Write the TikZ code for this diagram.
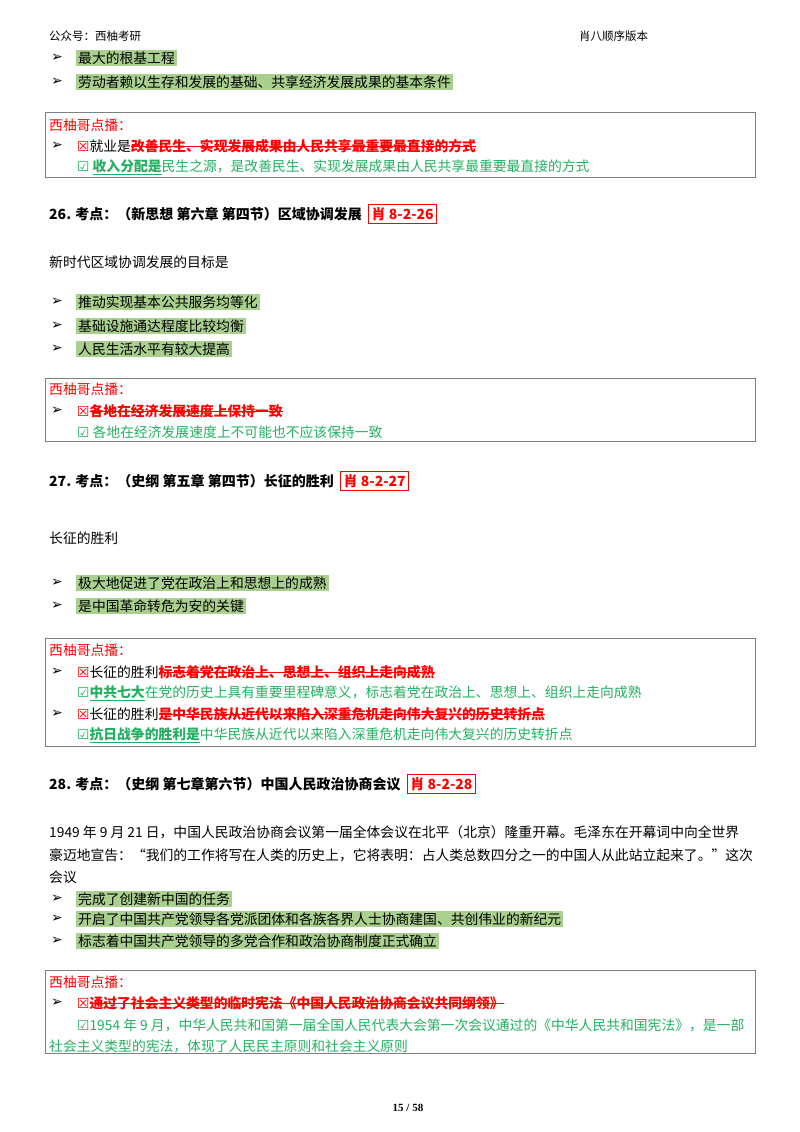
\documentclass[tikz,border=0pt]{standalone}
\usepackage{fontspec}
\setmainfont{Liberation Serif}
\newfontfamily\cjk{Noto Sans CJK SC}
\newfontfamily\sym{DejaVu Sans}
\definecolor{hl}{HTML}{A9D08E}
\definecolor{gr}{HTML}{22B060}
\definecolor{rd}{HTML}{FF0000}
\newcommand{\ck}{{\sym ☑}}
\newcommand{\xk}{{\sym ☒}}
\newsavebox{\mybx}
\newcommand{\strk}[1]{\sbox{\mybx}{#1}\rlap{\rule[0.3em]{\wd\mybx}{0.9pt}}\usebox{\mybx}}
\newcommand{\undl}[1]{\sbox{\mybx}{#1}\rlap{\rule[-0.25em]{\wd\mybx}{0.9pt}}\usebox{\mybx}}
\tikzset{
 tx/.style={anchor=west,inner sep=1pt,font=\cjk\fontsize{13.8}{16}\selectfont},
 hi/.style={tx,fill=hl,inner sep=2pt},
 bul/.style={anchor=center,inner sep=0pt,font=\sym\fontsize{14}{16}\selectfont},
 hd/.style={tx,font=\cjk\bfseries\fontsize{14}{16}\selectfont},
 tag/.style={draw=rd,line width=1.2pt,inner sep=3pt,anchor=west,text=rd,font=\cjk\bfseries\fontsize{14}{16}\selectfont},
 tipbox/.style={draw=gray,line width=0.8pt},
 small/.style={tx,font=\cjk\fontsize{11.5}{13}\selectfont}
}
\begin{document}
\begin{tikzpicture}[x=1pt,y=-1pt]
\useasboundingbox (0,0) rectangle (800,1132);
\node[small] (h1) at (48,36) {公众号：西柚考研};
\node[small] (h2) at (578,36) {肖八顺序版本};
% top bullets
\node[bul] (b1) at (57,58) {➢}; \node[hi] (t1) at (76,58) {最大的根基工程};
\node[bul] (b2) at (57,82) {➢}; \node[hi] (t2) at (76,82) {劳动者赖以生存和发展的基础、共享经济发展成果的基本条件};
% box1
\draw[tipbox] (45,112) rectangle (755,177);
\node[tx,text=rd] (p1) at (48,125) {西柚哥点播：};
\node[bul] (b3) at (57,146) {➢};
\node[tx] (p2) at (76,146) {\textcolor{rd}{\xk}就业是\textcolor{rd}{\bfseries\strk{改善民生、实现发展成果由人民共享最重要最直接的方式}}};
\node[tx,text=gr] (p3) at (76,167) {\ck\ \textbf{\undl{收入分配是}}民生之源，是改善民生、实现发展成果由人民共享最重要最直接的方式};
% 26
\node[hd] (s26) at (48,214) {26. 考点：（新思想 第六章 第四节）区域协调发展};
\node[tag] (g26) at ([xshift=5pt]s26.east) {肖 8-2-26};
\node[tx] (q26) at (48,262) {新时代区域协调发展的目标是};
\node[bul] at (57,302) {➢}; \node[hi] (a1) at (76,302) {推动实现基本公共服务均等化 };
\node[bul] at (57,326) {➢}; \node[hi] (a2) at (76,326) {基础设施通达程度比较均衡};
\node[bul] at (57,349) {➢}; \node[hi] (a3) at (76,349) {人民生活水平有较大提高};
\draw[tipbox] (45,378) rectangle (755,441);
\node[tx,text=rd] (p4) at (48,389) {西柚哥点播：};
\node[bul] at (57,411) {➢};
\node[tx,text=rd] (p5) at (76,411) {\xk\textbf{\strk{各地在经济发展速度上保持一致}}};
\node[tx,text=gr] (p6) at (76,432) {\ck\ 各地在经济发展速度上不可能也不应该保持一致};
% 27
\node[hd] (s27) at (48,481) {27. 考点：（史纲 第五章 第四节）长征的胜利};
\node[tag] (g27) at ([xshift=5pt]s27.east) {肖 8-2-27};
\node[tx] (q27) at (48,538) {长征的胜利};
\node[bul] at (57,583) {➢}; \node[hi] (c1) at (76,583) {极大地促进了党在政治上和思想上的成熟};
\node[bul] at (57,606) {➢}; \node[hi] (c2) at (76,606) {是中国革命转危为安的关键};
\draw[tipbox] (45,638) rectangle (755,746);
\node[tx,text=rd] (p7) at (48,650) {西柚哥点播：};
\node[bul] at (57,672) {➢};
\node[tx] (p8) at (76,672) {\textcolor{rd}{\xk}长征的胜利\textcolor{rd}{\bfseries\strk{标志着党在政治上、思想上、组织上走向成熟}}};
\node[tx,text=gr] (p9) at (76,693) {\ck\textbf{\undl{中共七大}}在党的历史上具有重要里程碑意义，标志着党在政治上、思想上、组织上走向成熟};
\node[bul] at (57,714) {➢};
\node[tx] (p10) at (76,714) {\textcolor{rd}{\xk}长征的胜利\textcolor{rd}{\bfseries\strk{是中华民族从近代以来陷入深重危机走向伟大复兴的历史转折点}}};
\node[tx,text=gr] (p11) at (76,735) {\ck\textbf{\undl{抗日战争的胜利是}}中华民族从近代以来陷入深重危机走向伟大复兴的历史转折点};
% 28
\node[hd] (s28) at (48,784) {28. 考点：（史纲 第七章第六节）中国人民政治协商会议};
\node[tag] (g28) at ([xshift=5pt]s28.east) {肖 8-2-28};
\node[tx] (r1) at (48,832) {1949 年 9 月 21 日，中国人民政治协商会议第一届全体会议在北平（北京）隆重开幕。毛泽东在开幕词中向全世界};
\node[tx] (r2) at (48,855) {豪迈地宣告：“我们的工作将写在人类的历史上，它将表明：占人类总数四分之一的中国人从此站立起来了。”这次};
\node[tx] (r3) at (48,877) {会议};
\node[bul] at (57,899) {➢}; \node[hi] (d1) at (76,899) {完成了创建新中国的任务};
\node[bul] at (57,919) {➢}; \node[hi] (d2) at (76,919) {开启了中国共产党领导各党派团体和各族各界人士协商建国、共创伟业的新纪元};
\node[bul] at (57,941) {➢}; \node[hi] (d3) at (76,941) {标志着中国共产党领导的多党合作和政治协商制度正式确立};
\draw[tipbox] (45,970) rectangle (755,1053);
\node[tx,text=rd] (p12) at (48,982) {西柚哥点播：};
\node[bul] at (57,1003) {➢};
\node[tx,text=rd] (p13) at (76,1003) {\xk\textbf{\strk{通过了社会主义类型的临时宪法《中国人民政治协商会议共同纲领》}}};
\node[tx,text=gr] (p14) at (76,1025) {\ck1954 年 9 月，中华人民共和国第一届全国人民代表大会第一次会议通过的《中华人民共和国宪法》，是一部};
\node[tx,text=gr] (p15) at (48,1046) {社会主义类型的宪法，体现了人民民主原则和社会主义原则};
\node[tx,anchor=center,font=\bfseries\fontsize{11}{13}\selectfont] (ft) at (408,1108) {15 / 58};
\end{tikzpicture}
\end{document}
